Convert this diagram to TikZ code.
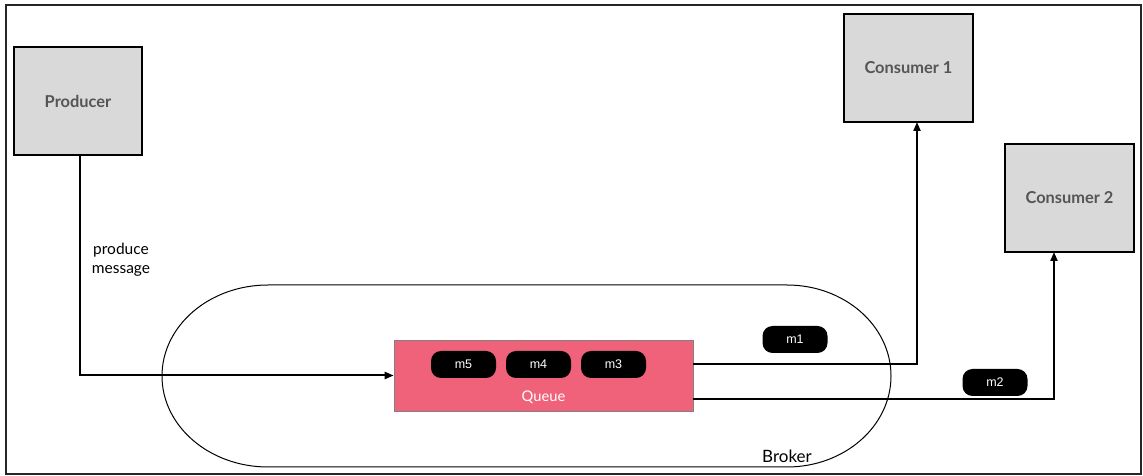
\documentclass[tikz,border=0pt]{standalone}
\usepackage{fontspec}
\setmainfont{Lato}
\newfontfamily\pillfont{Liberation Sans}
\usetikzlibrary{arrows.meta}
\definecolor{boxgray}{HTML}{D9D9D9}
\definecolor{txtgray}{HTML}{555555}
\definecolor{qpink}{HTML}{F0627A}
\tikzset{
  actor/.style={draw=black, line width=2pt, fill=boxgray, minimum width=128pt, minimum height=108pt,
    font=\fontsize{16.4}{19}\selectfont\bfseries, text=txtgray, inner sep=0pt},
  pill/.style={fill=black, rounded corners=10pt, minimum width=65pt, minimum height=27pt,
    font=\pillfont\fontsize{12.5}{14}\selectfont, text=white, inner sep=0pt},
  arr/.style={line width=2pt, -{Triangle[length=9pt,width=7pt]}},
  flow/.style={line width=2pt}
}
\begin{document}
\begin{tikzpicture}[x=1pt,y=1pt]
\useasboundingbox (0,0) rectangle (1143,476);
\draw[line width=2pt, draw=black!85] (6,471) rectangle (1141,2);
% broker
\draw[line width=1pt] (268,191) -- (787,191)
  arc[start angle=90,end angle=-90,x radius=104,y radius=91] -- (268,9)
  arc[start angle=270,end angle=90,x radius=106,y radius=91] -- cycle;
\node[font=\fontsize{17}{19}\selectfont] (broker) at (787,20) {Broker};
% nodes
\node[actor] (prod) at (78,375) {Producer};
\node[actor, minimum width=129pt] (c1) at (908.5,408) {Consumer 1};
\node[actor, minimum width=129pt] (c2) at (1069.5,278) {Consumer 2};
\node[draw=black!50, line width=0.6pt, fill=qpink, minimum width=299pt, minimum height=71pt] (queue) at (543.5,100.5) {};
\node[font=\fontsize{14.7}{16}\selectfont, text=white] (qlabel) at (543.5,79) {Queue};
\node[pill] (m5) at (463.5,111.5) {m5};
\node[pill] (m4) at (538.5,111.5) {m4};
\node[pill] (m3) at (613.5,111.5) {m3};
\node[pill] (m1) at (795,136.5) {m1};
\node[pill] (m2) at (995,93.5) {m2};
\node[align=center, font=\fontsize{15.5}{19}\selectfont] (lbl) at (121,216.5) {produce\\message};
% connectors
\coordinate (pout) at (80,321);
\coordinate (pcorner) at (80,100.5);
\draw[arr] (pout) -- (pcorner) -- (queue.west);
\coordinate (q1) at (693,112);
\coordinate (c1in) at (917,354);
\draw[arr] (q1) -| (c1in);
\coordinate (q2) at (693,77);
\coordinate (c2in) at (1054,224);
\draw[arr] (q2) -| (c2in);
\end{tikzpicture}
\end{document}
